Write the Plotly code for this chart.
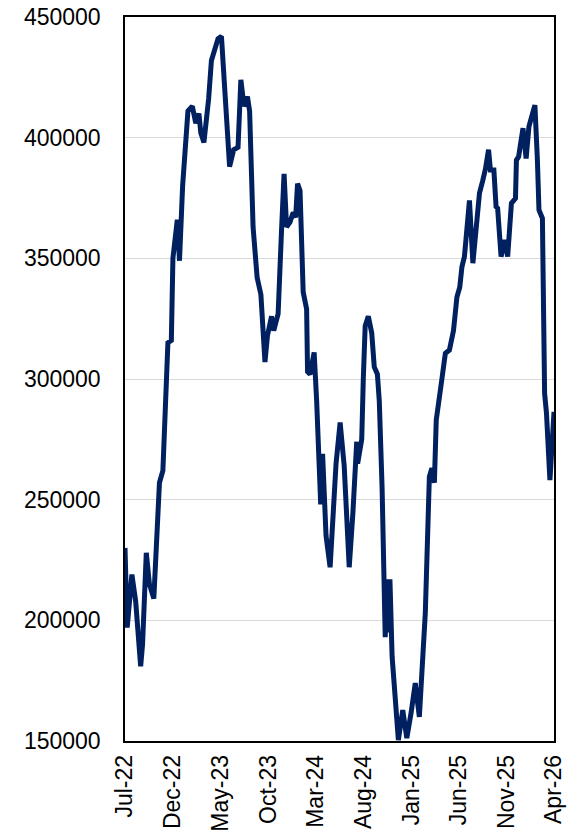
import plotly.graph_objects as go

# Weekly series (traced turning points)
dates = [
    "2022-07-01", "2022-07-08", "2022-07-23", "2022-08-04", "2022-08-20", "2022-08-26",
    "2022-09-07", "2022-09-17", "2022-10-01", "2022-10-10", "2022-10-19", "2022-10-30",
    "2022-11-08", "2022-11-15", "2022-11-26", "2022-12-01", "2022-12-15", "2022-12-22",
    "2023-01-01", "2023-01-11", "2023-01-18", "2023-02-01", "2023-02-12", "2023-02-22",
    "2023-02-28", "2023-03-10", "2023-03-25", "2023-04-03", "2023-04-13", "2023-04-24",
    "2023-05-05", "2023-05-19", "2023-05-31", "2023-06-13", "2023-06-27", "2023-07-06",
    "2023-07-16", "2023-07-27", "2023-08-03", "2023-08-14", "2023-08-27", "2023-09-08",
    "2023-09-21", "2023-09-29", "2023-10-12", "2023-10-19", "2023-11-02", "2023-11-13",
    "2023-11-21", "2023-11-29", "2023-12-10", "2023-12-20", "2023-12-28", "2024-01-03",
    "2024-01-11", "2024-01-21", "2024-02-01", "2024-02-04", "2024-02-12", "2024-02-25",
    "2024-03-04", "2024-03-17", "2024-03-23", "2024-04-03", "2024-04-16", "2024-05-05",
    "2024-05-18", "2024-05-31", "2024-06-16", "2024-06-28", "2024-07-10", "2024-07-13",
    "2024-07-26", "2024-07-31", "2024-08-06", "2024-08-16", "2024-08-27", "2024-09-04",
    "2024-09-14", "2024-09-20", "2024-09-29", "2024-10-09", "2024-10-15", "2024-10-20",
    "2024-10-24", "2024-10-31", "2024-11-20", "2024-12-04", "2024-12-17", "2024-12-31",
    "2025-01-13", "2025-01-26", "2025-02-14", "2025-02-27", "2025-03-07", "2025-03-15",
    "2025-03-21", "2025-04-08", "2025-04-19", "2025-05-02", "2025-05-15", "2025-05-26",
    "2025-06-04", "2025-06-11", "2025-06-19", "2025-07-05", "2025-07-16", "2025-07-29",
    "2025-08-06", "2025-08-16", "2025-08-25", "2025-09-04", "2025-09-10", "2025-09-21",
    "2025-09-28", "2025-10-03", "2025-10-14", "2025-10-26", "2025-11-04", "2025-11-16",
    "2025-11-29", "2025-12-02", "2025-12-09", "2025-12-23", "2026-01-02", "2026-01-11",
    "2026-01-22", "2026-01-30", "2026-02-07", "2026-02-12", "2026-02-23", "2026-03-02",
    "2026-03-08", "2026-03-13", "2026-03-19", "2026-04-01",
]

values = [
    230000, 197000, 219000, 208000, 181000, 190000,
    228000, 215000, 209000, 235000, 257000, 262000,
    290000, 315000, 316000, 350000, 366000, 349000,
    380000, 402000, 411000, 413000, 406000, 410000,
    402000, 398000, 416000, 432000, 436000, 441000,
    442000, 415000, 388000, 395000, 396000, 424000,
    413000, 417000, 411000, 363000, 342000, 335000,
    307000, 318000, 326000, 320000, 327000, 362000,
    385000, 363000, 365000, 369000, 367000, 381000,
    378000, 336000, 329000, 303000, 302000, 311000,
    291000, 248000, 269000, 235000, 222000, 265000,
    282000, 264000, 222000, 245000, 274000, 265000,
    275000, 300000, 322000, 326000, 319000, 305000,
    302000, 291000, 255000, 193000, 217000, 195000,
    217000, 185000, 150400, 162800, 151200, 162000,
    174000, 160000, 203000, 259500, 263000, 257000,
    283000, 300000, 310600, 312000, 320000, 334000,
    338000, 346500, 350700, 374000, 348000, 366000,
    377000, 382000, 387000, 395000, 386600, 386600,
    371400, 370700, 350700, 357600, 350700, 372800,
    374900, 390700, 392100, 403900, 391400, 404600,
    410100, 413500, 390700, 370000, 366600, 294000,
    285800, 272000, 258100, 286400,
]

tick_dates = ["2022-07-01", "2022-12-01", "2023-05-01", "2023-10-01", "2024-03-01",
              "2024-08-01", "2025-01-01", "2025-06-01", "2025-11-01", "2026-04-01"]
tick_labels = ["Jul-22", "Dec-22", "May-23", "Oct-23", "Mar-24",
               "Aug-24", "Jan-25", "Jun-25", "Nov-25", "Apr-26"]

y_ticks = [150000, 200000, 250000, 300000, 350000, 400000, 450000]

fig = go.Figure(
    go.Scatter(
        x=dates, y=values, mode="lines",
        line=dict(color="#002060", width=5),
        hoverinfo="skip",
    )
)

fig.update_layout(
    width=578, height=835,
    margin=dict(l=125, r=24, t=17, b=94),
    paper_bgcolor="white", plot_bgcolor="white",
    showlegend=False,
    font=dict(family="Liberation Sans, Arial, sans-serif", size=23, color="black"),
)

fig.update_xaxes(
    type="date",
    range=["2022-07-01", "2026-04-01"],
    tickvals=tick_dates, ticktext=tick_labels,
    tickangle=-90,
    showgrid=False, zeroline=False,
    showline=True, linecolor="black", linewidth=1.5, mirror=True,
    ticks="", ticklabelstandoff=3,
    automargin=False,
)

fig.update_yaxes(
    range=[150000, 450000],
    tickvals=y_ticks, ticktext=[str(v) for v in y_ticks],
    showgrid=True, gridcolor="#D9D9D9", gridwidth=1,
    zeroline=False,
    showline=True, linecolor="black", linewidth=1.5, mirror=True,
    ticks="", ticklabelstandoff=18,
    automargin=False,
)

fig.write_html("out.html")
